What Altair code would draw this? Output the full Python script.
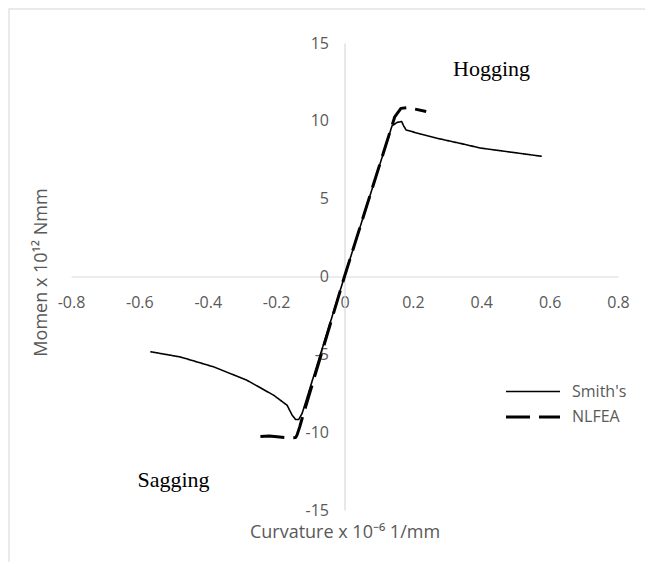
import altair as alt
import pandas as pd

# ---- data ----
SMITH_X = [-0.568, -0.48, -0.382, -0.285, -0.207, -0.168, -0.153, -0.143, -0.134, -0.124,
           0.0, 0.139, 0.154, 0.167, 0.173, 0.180, 0.222, 0.281, 0.339, 0.398, 0.49, 0.577]
SMITH_Y = [-4.83, -5.17, -5.81, -6.67, -7.63, -8.27, -8.91, -9.19, -9.19, -8.8,
           0.0, 9.68, 9.9, 9.96, 9.68, 9.42, 9.15, 8.83, 8.55, 8.25, 7.98, 7.72]

NLFEA_X = [-0.246, -0.22, -0.197, -0.163, -0.143, -0.139, -0.131, -0.124,
           0.0, 0.147, 0.165, 0.185, 0.239]
NLFEA_Y = [-10.28, -10.25, -10.3, -10.36, -10.35, -10.19, -9.66, -9.12,
           0.0, 10.26, 10.8, 10.85, 10.6]

SERIES = ["Smith's", "NLFEA"]
X_TICKS = [-0.8, -0.6, -0.4, -0.2, 0, 0.2, 0.4, 0.6, 0.8]
Y_TICKS = [-15, -10, -5, 0, 5, 10, 15]

ANNOT_TEXT = ["Hogging", "Sagging"]
ANNOT_X = [0.43, -0.50]
ANNOT_Y = [13.3, -13.1]

X_TITLE = "Curvature x 10\u207b\u2076 1/mm"
Y_TITLE = "Momen x 10\u00b9\u00b2 Nmm"

# ---- tables ----
rows = []
for i, (x, y) in enumerate(zip(SMITH_X, SMITH_Y)):
    rows.append({"series": SERIES[0], "x": x, "y": y, "i": i})
for i, (x, y) in enumerate(zip(NLFEA_X, NLFEA_Y)):
    rows.append({"series": SERIES[1], "x": x, "y": y, "i": i})
df = pd.DataFrame(rows)
ann = pd.DataFrame({"text": ANNOT_TEXT, "x": ANNOT_X, "y": ANNOT_Y})

W, H = 547, 467
GRAY = "#595959"
AXC = "#d9d9d9"
FONT = "Open Sans"
MINUS_FIX = "replace(format(datum.value, '.1~f'), '\u2212', '-')"

xscale = alt.Scale(domain=[-0.8, 0.8], nice=False, zero=False)
yscale = alt.Scale(domain=[-15, 15], nice=False, zero=False)

x_axis = alt.Axis(
    values=X_TICKS, offset=-H / 2, ticks=False, grid=False,
    domainColor=AXC, domainWidth=1.2,
    labelFont=FONT, labelFontSize=16, labelColor=GRAY, labelPadding=18,
    labelFlush=False, labelOverlap=False, labelExpr=MINUS_FIX,
    title=X_TITLE, titleX=W / 2, titleY=256, titleAlign="center",
    titleBaseline="middle", titleFont=FONT, titleFontSize=18,
    titleFontWeight="normal", titleColor=GRAY,
)
y_axis = alt.Axis(
    values=Y_TICKS, offset=-W / 2, ticks=False, grid=False,
    domainColor=AXC, domainWidth=1.2,
    labelFont=FONT, labelFontSize=16, labelColor=GRAY, labelPadding=16,
    labelFlush=False, labelOverlap=False, labelExpr=MINUS_FIX,
    title=Y_TITLE, titleX=-303, titleY=229, titleAlign="center",
    titleBaseline="middle", titleAngle=270, titleFont=FONT, titleFontSize=18,
    titleFontWeight="normal", titleColor=GRAY,
)

legend = alt.Legend(
    title=None, orient="none", legendX=447, legendY=334,
    symbolType="M-2,0H2", symbolSize=729, symbolStrokeColor="black",
    labelFont=FONT, labelFontSize=16, labelColor=GRAY,
    labelOffset=24, rowPadding=2, padding=0,
)

lines = alt.Chart(df).mark_line(color="black", strokeCap="butt", strokeJoin="round").encode(
    x=alt.X("x:Q", scale=xscale, axis=x_axis),
    y=alt.Y("y:Q", scale=yscale, axis=y_axis),
    order="i:Q",
    detail="series:N",
    strokeDash=alt.StrokeDash(
        "series:N",
        scale=alt.Scale(domain=SERIES, range=[[1, 0], [24, 9]]),
        legend=legend,
    ),
    strokeWidth=alt.StrokeWidth(
        "series:N",
        scale=alt.Scale(domain=SERIES, range=[1.6, 3.0]),
        legend=legend,
    ),
)

texts = alt.Chart(ann).mark_text(
    font="Liberation Serif", fontSize=22, color="black", align="center", baseline="middle"
).encode(
    x=alt.X("x:Q", scale=xscale, axis=x_axis),
    y=alt.Y("y:Q", scale=yscale, axis=y_axis),
    text="text:N",
)

border = alt.Chart(pd.DataFrame({"a": [0]})).mark_rect(
    fill=None, stroke="#e3e3e3", strokeWidth=1.5, clip=False
).encode(
    x=alt.value(-62), x2=alt.value(700), y=alt.value(-34), y2=alt.value(700)
)

chart = alt.layer(lines, texts, border).properties(
    width=W, height=H,
    autosize=alt.AutoSizeParams(type="none"),
    padding={"left": 63, "top": 35, "right": 27, "bottom": 52},
    background="white",
).configure_view(stroke=None)

chart.save("out.html", embed_options={"renderer": "svg", "actions": False})
